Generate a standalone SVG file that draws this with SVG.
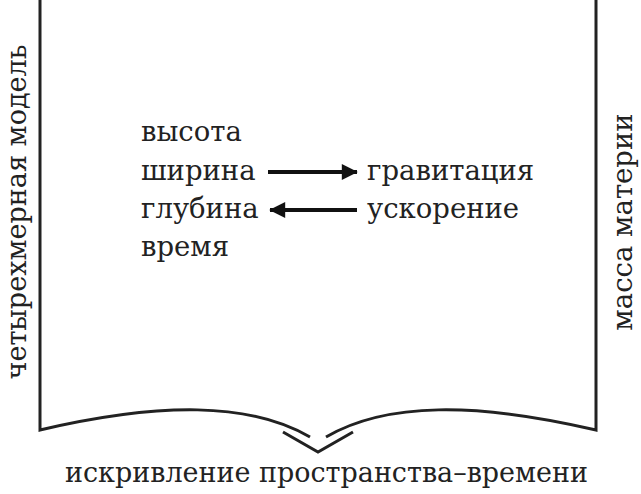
<svg xmlns="http://www.w3.org/2000/svg" width="641" height="494" viewBox="0 0 641 494">
<style>
.t{font-family:"DejaVu Serif","Liberation Serif",serif;font-size:27.5px;fill:#222}
.ln{fill:none;stroke:#222;stroke-width:3}
.ar{fill:none;stroke:#111;stroke-width:4}
</style>
<defs>
<marker id="ah" viewBox="0 0 10 10" refX="9.5" refY="5" markerWidth="4.75" markerHeight="4" markerUnits="strokeWidth" orient="auto">
<path d="M0,0 L10,5 L0,10 z" fill="#111"/>
</marker>
</defs>
<rect width="641" height="494" fill="#fff"/>
<g id="frame">
<path class="ln" d="M40,0 V430 C160,402 250,402 310,437"/>
<path class="ln" d="M596,0 V430 C476,402 386,402 326,437"/>
<polyline class="ln" points="283,432 318,452 353,432"/>
</g>
<g id="left-label"><text class="t" transform="translate(26,212) rotate(-90)" text-anchor="middle" textLength="335" lengthAdjust="spacingAndGlyphs">четырехмерная модель</text></g>
<g id="right-label"><text class="t" transform="translate(632,222) rotate(-90)" text-anchor="middle">масса материи</text></g>
<g id="bottom-label"><text class="t" x="65" y="482" textLength="523" lengthAdjust="spacingAndGlyphs">искривление пространства–времени</text></g>
<g id="dims">
<text class="t" x="141" y="141">высота</text>
<text class="t" x="141" y="180">ширина</text>
<text class="t" x="141" y="218">глубина</text>
<text class="t" x="141" y="256">время</text>
</g>
<g id="gravity"><text class="t" x="367" y="180">гравитация</text></g>
<g id="accel"><text class="t" x="367" y="218">ускорение</text></g>
<g id="connectors">
<line class="ar" x1="268" y1="172" x2="357" y2="172" marker-end="url(#ah)"/>
<line class="ar" x1="357" y1="210" x2="270" y2="210" marker-end="url(#ah)"/>
</g>
</svg>
